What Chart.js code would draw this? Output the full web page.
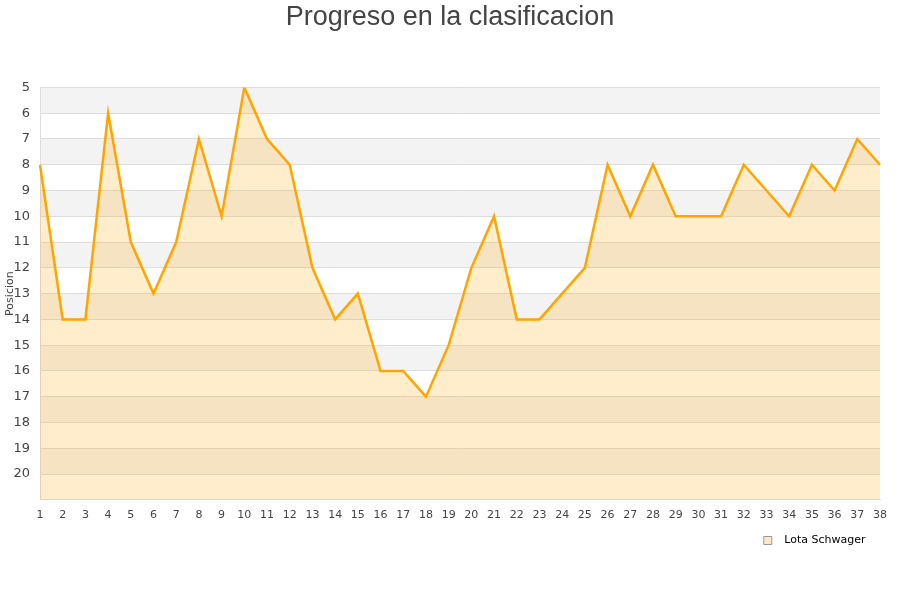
<!DOCTYPE html>
<html>
<head>
<meta charset="utf-8">
<script src="https://cdn.jsdelivr.net/npm/chart.js@4"></script>
<style>
html,body{margin:0;padding:0;background:#fff;}
#wrap{width:900px;height:600px;}
</style>
</head>
<body>
<div id="wrap"><canvas id="c" width="900" height="600"></canvas></div>
<script>
const jornadas = ["1","2","3","4","5","6","7","8","9","10","11","12","13","14","15","16","17","18","19","20","21","22","23","24","25","26","27","28","29","30","31","32","33","34","35","36","37","38"];
const posiciones = [8,14,14,6,11,13,11,7,10,5,7,8,12,14,13,16,16,17,15,12,10,14,14,13,12,8,10,8,10,10,10,8,9,10,8,9,7,8];
const equipo = "Lota Schwager";
const titulo = "Progreso en la clasificacion";
const ejeY = "Posicion";
const yMin = 5, yMax = 21;

const bands = {
  id: 'bands',
  beforeDraw(chart) {
    const {ctx, chartArea: a, scales: {y}} = chart;
    ctx.save();
    ctx.fillStyle = '#fff';
    ctx.fillRect(a.left, a.top, a.right - a.left, a.bottom - a.top);
    for (let v = yMin; v < yMax; v += 2) {
      const y1 = y.getPixelForValue(v), y2 = y.getPixelForValue(v + 1);
      ctx.fillStyle = '#f3f3f3';
      ctx.fillRect(a.left, Math.min(y1, y2), a.right - a.left, Math.abs(y2 - y1));
    }
    ctx.restore();
  }
};

const centerTitle = {
  id: 'centerTitle',
  afterLayout(chart) {
    const t = chart.titleBlock;
    if (t) { t.left = 0; t.right = chart.width; t.width = chart.width; }
  }
};

new Chart(document.getElementById('c'), {
  type: 'line',
  data: {
    labels: jornadas,
    datasets: [{
      label: equipo,
      data: posiciones,
      borderColor: '#FFA500',
      backgroundColor: 'rgba(255,165,0,0.2)',
      borderWidth: 2.5,
      pointRadius: 0,
      tension: 0,
      fill: 'start'
    }]
  },
  options: {
    responsive: false,
    animation: false,
    layout: {padding: {left: 0, right: 20, top: 1, bottom: 44}},
    plugins: {
      title: {
        display: true,
        text: titulo,
        color: '#444',
        font: {family: 'Liberation Sans, Arial, sans-serif', size: 27, weight: 'normal'},
        padding: {top: 0, bottom: 54}
      },
      legend: {
        position: 'bottom',
        align: 'end',
        labels: {
          boxWidth: 8, boxHeight: 8, padding: 4,
          color: '#000',
          font: {family: 'DejaVu Sans', size: 11},
          generateLabels(chart) {
            const items = Chart.defaults.plugins.legend.labels.generateLabels(chart);
            items.forEach(it => { it.text = '  ' + it.text + '   '; it.fillStyle = '#FFE9C4'; it.strokeStyle = '#999'; it.lineWidth = 1; });
            return items;
          }
        }
      },
      tooltip: {enabled: false}
    },
    scales: {
      x: {
        offset: false,
        grid: {display: false, drawTicks: false},
        border: {color: '#ddd'},
        ticks: {color: '#444', font: {family: 'DejaVu Sans', size: 11}, autoSkip: false, maxRotation: 0, padding: 9}
      },
      y: {
        reverse: true,
        min: yMin, max: yMax,
        afterFit(s) { s.width = 40; },
        title: {display: true, text: ejeY, color: '#444', font: {family: 'DejaVu Sans', size: 11}, padding: {top: 4, bottom: 0}},
        grid: {color: '#ddd', drawTicks: false},
        border: {color: '#ddd'},
        ticks: {
          stepSize: 1, color: '#444', padding: 10,
          font: {family: 'DejaVu Sans', size: 13},
          callback: v => (v === yMax ? '' : v)
        }
      }
    }
  },
  plugins: [bands, centerTitle]
});
</script>
</body>
</html>
